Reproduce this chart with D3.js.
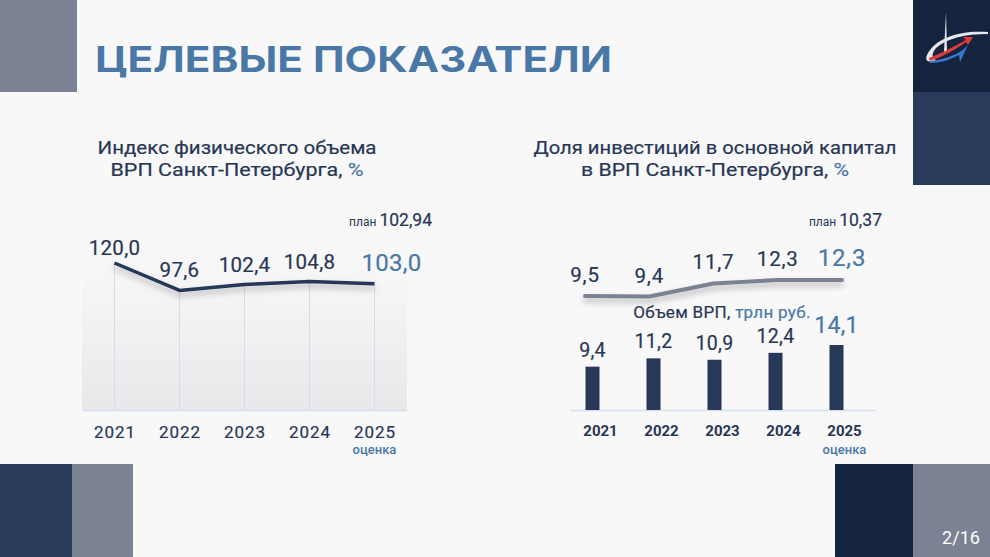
<!DOCTYPE html>
<html>
<head>
<meta charset="utf-8">
<script src="https://cdn.jsdelivr.net/npm/d3@7"></script>
<style>
  body { margin: 0; background: #f8f8f8; }
  svg { display: block; font-family: Roboto, "Noto Sans", sans-serif; }
  .med { stroke-width: 0.2px; }
</style>
</head>
<body>
<div id="chart"></div>
<script>
// Data
const years = ["2021", "2022", "2023", "2024", "2025"];
const gdpIndex = [120.0, 97.6, 102.4, 104.8, 103.0];
const investShare = [9.5, 9.4, 11.7, 12.3, 12.3];
const gdpVolume = [9.4, 11.2, 10.9, 12.4, 14.1];
const planIndex = "102,94";
const planShare = "10,37";

const navy = "#283655";
const blue = "#4a78a6";
const fmt = v => d3.format(".1f")(v).replace(".", ",");

const svg = d3.select("#chart")
    .append("svg")
    .attr("width", 990)
    .attr("height", 557);

const defs = svg.append("defs");
const shadow = defs.append("filter").attr("id", "shadow")
    .attr("x", "-10%").attr("y", "-50%").attr("width", "120%").attr("height", "300%");
shadow.append("feDropShadow")
    .attr("dx", 0).attr("dy", 4).attr("stdDeviation", 3)
    .attr("flood-color", "#000").attr("flood-opacity", 0.28);
const grad = defs.append("linearGradient").attr("id", "fade")
    .attr("x1", 0).attr("y1", 0).attr("x2", 0).attr("y2", 1);
grad.append("stop").attr("offset", "0%").attr("stop-color", "#ececee").attr("stop-opacity", 0);
grad.append("stop").attr("offset", "100%").attr("stop-color", "#e8e8eb").attr("stop-opacity", 1);

// Background and corner blocks
svg.append("rect").attr("width", 990).attr("height", 557).attr("fill", "#f8f8f8");
svg.append("rect").attr("x", 0).attr("y", 0).attr("width", 77).attr("height", 92).attr("fill", "#7b8293");
svg.append("rect").attr("x", 913).attr("y", 0).attr("width", 77).attr("height", 92).attr("fill", "#15243e");
svg.append("rect").attr("x", 913).attr("y", 92).attr("width", 77).attr("height", 93).attr("fill", "#2a3a5a");
svg.append("rect").attr("x", 0).attr("y", 464).attr("width", 72).attr("height", 93).attr("fill", "#2a3a5a");
svg.append("rect").attr("x", 72).attr("y", 464).attr("width", 61).attr("height", 93).attr("fill", "#7b8293");
svg.append("rect").attr("x", 835).attr("y", 464).attr("width", 78).attr("height", 93).attr("fill", "#15243e");
svg.append("rect").attr("x", 913).attr("y", 464).attr("width", 77).attr("height", 93).attr("fill", "#7b8293");

svg.append("text").attr("x", 961).attr("y", 544).attr("text-anchor", "middle")
    .attr("fill", "#fff").attr("font-size", 18).text("2/16");

// Logo (rough)
const logo = svg.append("g");
logo.append("path").attr("d", "M946,12 L947,52 L944,52 Z").attr("fill", "#e8e8ee");
logo.append("path").attr("d", "M988,32 C960,30 935,38 927,55 C924,62 930,63 936,60 C932,58 931,54 936,48 C948,38 965,34 988,34 Z")
    .attr("fill", "#e6e6ee");
logo.append("path").attr("d", "M929,58 C940,54 955,46 966,40 L963,37 L973,37 L968,45 L966,42 C955,50 942,57 930,61 Z")
    .attr("fill", "#e03a3a");
logo.append("path").attr("d", "M930,61 C942,60 955,56 964,49 L968,45 L960,62 L959,55 C950,60 940,63 930,63 Z")
    .attr("fill", "#3a78d0");

// Title
svg.append("text").attr("x", 95).attr("y", 72)
    .attr("font-family", "Inter, Roboto, sans-serif")
    .attr("font-weight", 700).attr("font-size", 35)
    .attr("textLength", 517).attr("lengthAdjust", "spacingAndGlyphs")
    .attr("fill", blue).text("ЦЕЛЕВЫЕ ПОКАЗАТЕЛИ");

// Subtitles
function subtitle(cx, lines) {
    lines.forEach((l, i) => {
        const t = svg.append("text").attr("class", "med").attr("text-anchor", "middle")
            .attr("x", cx).attr("y", 154 + i * 22)
            .attr("fill", navy).attr("stroke", navy)
            .attr("font-size", 19).attr("font-weight", 400)
            .attr("textLength", l[2]).attr("lengthAdjust", "spacingAndGlyphs");
        t.append("tspan").text(l[0]);
        if (l[1]) t.append("tspan").attr("fill", blue).attr("stroke", blue).text(l[1]);
    });
}
subtitle(237, [["Индекс физического объема", "", 279], ["ВРП Санкт-Петербурга, ", "%", 253]]);
subtitle(715, [["Доля инвестиций в основной капитал", "", 363], ["в ВРП Санкт-Петербурга, ", "%", 268]]);

function planLabel(xEnd, value) {
    const t = svg.append("text").attr("x", xEnd).attr("y", 226)
        .attr("text-anchor", "end").attr("fill", navy);
    t.append("tspan").attr("font-size", 12).text("план ");
    t.append("tspan").attr("class", "med").attr("stroke", navy).attr("font-size", 17.5).text(value);
}
planLabel(432, planIndex);
planLabel(882, planShare);

// ---------- Left chart: GDP index line ----------
const base = 410;
const x1 = d3.scalePoint().domain(years).range([82, 407]).padding(0.5);
const y1 = d3.scaleLinear().domain([0, 120]).range([base, 263]);

const left = svg.append("g");
left.append("rect").attr("x", 82).attr("y", 250).attr("width", 325).attr("height", base - 250)
    .attr("fill", "url(#fade)");

left.selectAll(".grid")
    .data(years)
    .enter()
    .append("line")
    .attr("x1", d => x1(d)).attr("x2", d => x1(d))
    .attr("y1", (d, i) => y1(gdpIndex[i])).attr("y2", base)
    .attr("stroke", "#d3ddef").attr("stroke-width", 1);

const axisL = left.append("g")
    .attr("transform", `translate(0,${base})`)
    .call(d3.axisBottom(x1).tickSize(0).tickPadding(16));
axisL.select(".domain").attr("stroke", "#d3ddef").attr("stroke-width", 1.5);
axisL.selectAll("text").attr("class", "med").attr("font-family", "Roboto, sans-serif")
    .attr("font-size", 17).attr("font-weight", 400).attr("fill", navy).attr("stroke", navy)
    .attr("letter-spacing", 1);

left.append("path")
    .datum(gdpIndex)
    .attr("fill", "none")
    .attr("stroke", "#263758").attr("stroke-width", 3.5)
    .attr("stroke-linejoin", "round")
    .attr("filter", "url(#shadow)")
    .attr("d", d3.line().x((d, i) => x1(years[i])).y(d => y1(d)));

left.selectAll(".val")
    .data(gdpIndex)
    .enter()
    .append("text")
    .attr("class", "med")
    .attr("text-anchor", "middle")
    .attr("x", (d, i) => i === 4 ? x1(years[i]) + 17 : x1(years[i]))
    .attr("y", (d, i) => y1(d) - (i === 0 ? 8 : 13))
    .attr("font-size", (d, i) => i === 4 ? 24 : 20.5)
    .attr("font-weight", 400)
    .attr("letter-spacing", 0.3)
    .attr("fill", (d, i) => i === 4 ? blue : navy)
    .attr("stroke", (d, i) => i === 4 ? blue : navy)
    .text(d => fmt(d));

left.append("text").attr("x", x1("2025")).attr("y", 454).attr("text-anchor", "middle")
    .attr("font-size", 13).attr("font-weight", 500).attr("fill", blue).text("оценка");

// ---------- Right chart: investment share line + GDP volume bars ----------
const xb = d3.scaleBand().domain(years).range([570, 875]);
const hb = d3.scaleLinear().domain([0, 14.1]).range([0, 65]);
const xl = d3.scalePoint().domain(years).range([585, 842]);
const yl = d3.scaleLinear().domain([9.5, 12.3]).range([296, 280]);
const barW = 14;

const right = svg.append("g");
const axisR = right.append("g")
    .attr("transform", `translate(0,${base})`)
    .call(d3.axisBottom(xb).tickSize(0).tickPadding(15));
axisR.select(".domain").attr("stroke", "#d3ddef").attr("stroke-width", 1.5);
axisR.selectAll("text").attr("font-family", "Roboto, sans-serif")
    .attr("font-size", 15).attr("font-weight", 700).attr("fill", navy);

right.selectAll(".bar")
    .data(gdpVolume)
    .enter()
    .append("rect")
    .attr("x", (d, i) => xb(years[i]) + xb.bandwidth() / 2 - 8 - barW / 2)
    .attr("y", d => base - hb(d))
    .attr("width", barW)
    .attr("height", d => hb(d))
    .attr("fill", "#283859");

right.selectAll(".barlabel")
    .data(gdpVolume)
    .enter()
    .append("text")
    .attr("class", "med")
    .attr("text-anchor", "middle")
    .attr("x", (d, i) => xb(years[i]) + xb.bandwidth() / 2 - 8)
    .attr("y", (d, i) => base - hb(d) - (i === 4 ? 12 : 10))
    .attr("font-size", (d, i) => i === 4 ? 23 : 19.5)
    .attr("font-weight", 400)
    .attr("letter-spacing", 0.3)
    .attr("fill", (d, i) => i === 4 ? blue : navy)
    .attr("stroke", (d, i) => i === 4 ? blue : navy)
    .text(d => fmt(d));

right.append("path")
    .datum(investShare)
    .attr("fill", "none")
    .attr("stroke", "#7c8292").attr("stroke-width", 4)
    .attr("stroke-linejoin", "round").attr("stroke-linecap", "round")
    .attr("filter", "url(#shadow)")
    .attr("d", d3.line().x((d, i) => xl(years[i])).y(d => yl(d)));

right.selectAll(".linelabel")
    .data(investShare)
    .enter()
    .append("text")
    .attr("class", "med")
    .attr("text-anchor", "middle")
    .attr("x", (d, i) => xl(years[i]))
    .attr("y", d => yl(d) - 14)
    .attr("font-size", (d, i) => i === 4 ? 24 : 20.5)
    .attr("font-weight", 400)
    .attr("letter-spacing", 0.8)
    .attr("fill", (d, i) => i === 4 ? blue : navy)
    .attr("stroke", (d, i) => i === 4 ? blue : navy)
    .text(d => fmt(d));

const vol = right.append("text").attr("class", "med").attr("x", 722).attr("y", 318).attr("text-anchor", "middle")
    .attr("font-size", 17).attr("font-weight", 400).attr("fill", navy).attr("stroke", navy)
    .attr("letter-spacing", 0.3);
vol.append("tspan").text("Объем ВРП, ");
vol.append("tspan").attr("fill", blue).attr("stroke", blue).text("трлн руб.");

right.append("text").attr("x", xb("2025") + xb.bandwidth() / 2).attr("y", 454).attr("text-anchor", "middle")
    .attr("font-size", 13).attr("font-weight", 500).attr("fill", blue).text("оценка");
</script>
</body>
</html>
